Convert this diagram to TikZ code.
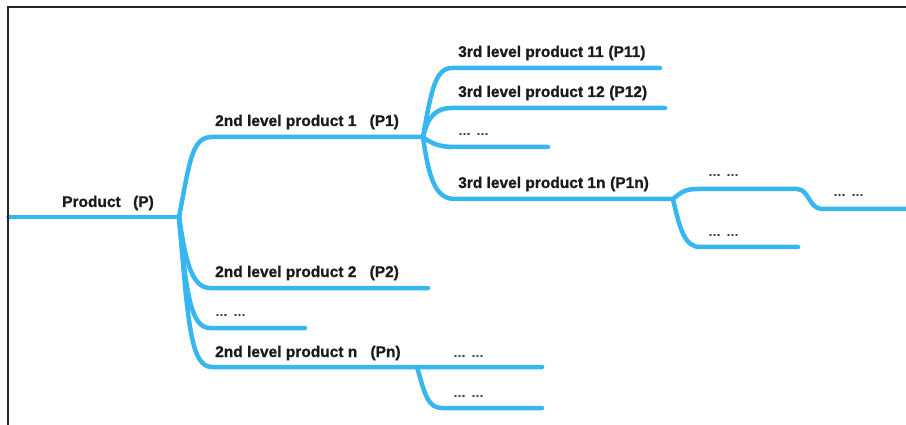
\documentclass[tikz,border=0pt]{standalone}
\usepackage{fontspec}
\setmainfont{Liberation Sans}[BoldFeatures={FakeBold=0.9}]
\definecolor{lineblue}{HTML}{38B6F0}
\definecolor{dotblue}{HTML}{1F78C8}
\definecolor{txt}{HTML}{1A1A1A}
\begin{document}
\begin{tikzpicture}[x=1pt,y=-1pt,
  br/.style={draw=lineblue, line width=4.5pt, line cap=round, line join=round},
  lbl/.style={font=\bfseries\fontsize{15.5}{17}\selectfont, text=txt, anchor=base west, inner sep=0pt},
  dotlbl/.style={font=\bfseries\fontsize{12.5}{13}\selectfont, text=txt!85, anchor=west, inner sep=0pt}]
\useasboundingbox (0,0) rectangle (906,425);
\fill[white] (0,0) rectangle (906,425);
% coordinates
\coordinate (root0) at (9,217);
\coordinate (root) at (179,217);
\coordinate (p1s) at (212,137);
\coordinate (p1) at (423,137);
\coordinate (p11s) at (452,68);
\coordinate (p11e) at (660,68);
\coordinate (p12s) at (452,108);
\coordinate (p12e) at (665,108);
\coordinate (p13s) at (455,147);
\coordinate (p13e) at (548,147);
\coordinate (p1ns) at (455,199);
\coordinate (p1n) at (673,199);
\coordinate (qas) at (697,189);
\coordinate (qae) at (797,189);
\coordinate (qbs) at (822,209);
\coordinate (qbe) at (906,209);
\coordinate (qcs) at (700,247);
\coordinate (qce) at (798,247);
\coordinate (p2s) at (210,288);
\coordinate (p2e) at (428,288);
\coordinate (p3s) at (210,328);
\coordinate (p3e) at (305,328);
\coordinate (pns) at (212,367);
\coordinate (pnf) at (417,367);
\coordinate (pne) at (542,367);
\coordinate (pnbs) at (442,408);
\coordinate (pnbe) at (542,408);
% connectors
\fill[dotblue] (root0) circle (2.6pt);
\draw[br] (root0) -- (root);
\draw[br] (root) .. controls (190,160) and (192,137) .. (p1s) -- (p1);
\draw[br] (root) .. controls (185,255) and (190,288) .. (p2s) -- (p2e);
\draw[br] (root) .. controls (186,290) and (190,328) .. (p3s) -- (p3e);
\draw[br] (root) .. controls (188,320) and (190,367) .. (pns) -- (pnf) -- (pne);
\draw[br] (pnf) .. controls (425,395) and (428,408) .. (pnbs) -- (pnbe);
\draw[br] (p1) .. controls (431,92) and (435,68) .. (p11s) -- (p11e);
\draw[br] (p1) .. controls (428,116) and (436,108) .. (p12s) -- (p12e);
\draw[br] (p1) .. controls (432,144) and (440,147) .. (p13s) -- (p13e);
\draw[br] (p1) .. controls (429,180) and (436,199) .. (p1ns) -- (p1n);
\draw[br] (p1n) .. controls (681,192) and (686,189) .. (qas) -- (qae) .. controls (809,189) and (809,209) .. (qbs) -- (qbe);
\draw[br] (p1n) .. controls (680,230) and (685,247) .. (qcs) -- (qce);
% frame lines
\draw[line width=1.3pt, black!85] (8,425) -- (8,7) -- (906,7);
% labels
\node[lbl] (lP) at (62,207) {Product\hspace{0.8em}(P)};
\node[lbl] (lP1) at (215,126) {2nd level product 1\hspace{0.85em}(P1)};
\node[lbl] (lP11) at (458,57) {3rd level product 11\hspace{0.3em}(P11)};
\node[lbl] (lP12) at (458,97) {3rd level product 12\hspace{0.3em}(P12)};
\node[dotlbl] (lP13) at (458,134) {…\hspace{0.45em}…};
\node[lbl] (lP1n) at (458,188) {3rd level product 1n\hspace{0.3em}(P1n)};
\node[dotlbl] (lqa) at (708,175) {…\hspace{0.45em}…};
\node[dotlbl] (lqb) at (833,195) {…\hspace{0.45em}…};
\node[dotlbl] (lqc) at (708,235) {…\hspace{0.45em}…};
\node[lbl] (lP2) at (215,277) {2nd level product 2\hspace{0.85em}(P2)};
\node[dotlbl] (lP3) at (215,315) {…\hspace{0.45em}…};
\node[lbl] (lPn) at (215,357) {2nd level product n\hspace{0.85em}(Pn)};
\node[dotlbl] (lpna) at (453,356) {…\hspace{0.45em}…};
\node[dotlbl] (lpnb) at (453,396) {…\hspace{0.45em}…};
\end{tikzpicture}
\end{document}
